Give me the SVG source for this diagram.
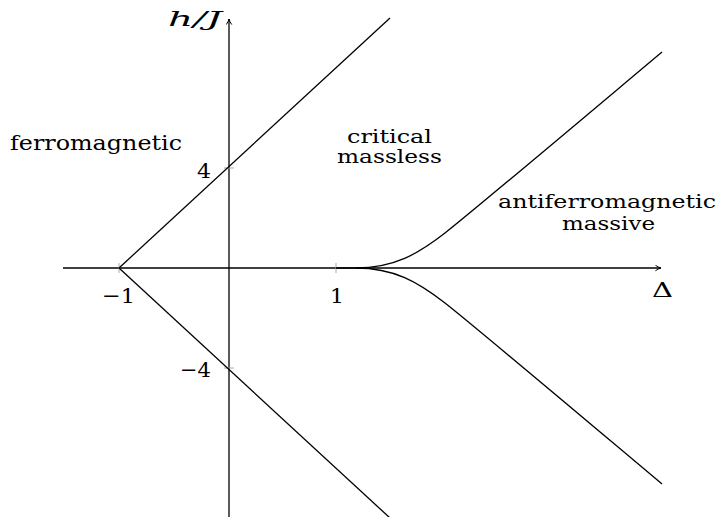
<svg xmlns="http://www.w3.org/2000/svg" width="720" height="517" viewBox="0 0 720 517">
<style>
.ax{stroke:#000;stroke-width:1.3;fill:none}
.ln{stroke:#000;stroke-width:1.3;fill:none}
.tk{stroke:#aaa;stroke-width:1;fill:none}
text{font-family:"DejaVu Serif","Liberation Serif",serif;font-size:21px;fill:#000}
.it{font-style:italic}
.sm{font-size:19px}
</style>
<defs>
<marker id="arr" viewBox="0 0 10 10" refX="9" refY="5" markerWidth="7" markerHeight="7" markerUnits="userSpaceOnUse" orient="auto">
<path d="M1,1 Q5,4 9,5 Q5,6 1,9" fill="none" stroke="#000" stroke-width="1.4"/>
</marker>
</defs>
<rect width="720" height="517" fill="#fff"/>
<g id="axes">
<line class="ax" x1="63" y1="268" x2="661" y2="268" marker-end="url(#arr)"/>
<line class="ax" x1="229" y1="517" x2="229" y2="19" marker-end="url(#arr)"/>
<line class="tk" x1="119" y1="263" x2="119" y2="273"/>
<line class="tk" x1="336" y1="263" x2="336" y2="273"/>
<line class="tk" x1="224" y1="168" x2="234" y2="168"/>
<line class="tk" x1="224" y1="368" x2="234" y2="368"/>
</g>
<g id="connectors">
<line class="ln" x1="119" y1="268" x2="390" y2="18"/>
<line class="ln" x1="119" y1="268" x2="390" y2="518"/>
<path class="ln" d="M336,268 L356,268 C394,268 418,254 445,233 S600,104 662,52"/>
<path class="ln" d="M356,268 C394,268 418,282 445,303 S600,432 662,484"/>
</g>
<g id="labels">
<text class="it" x="168" y="26" textLength="54" lengthAdjust="spacingAndGlyphs">h/J</text>
<text x="652" y="297" textLength="21" lengthAdjust="spacingAndGlyphs">Δ</text>
<text x="197" y="178" textLength="14" lengthAdjust="spacingAndGlyphs">4</text>
<text x="180" y="377" textLength="31" lengthAdjust="spacingAndGlyphs">−4</text>
<text x="102" y="303" textLength="33" lengthAdjust="spacingAndGlyphs">−1</text>
<text x="330" y="303" textLength="14" lengthAdjust="spacingAndGlyphs">1</text>
</g>
<g id="ferromagnetic">
<text x="10" y="150" textLength="172" lengthAdjust="spacingAndGlyphs">ferromagnetic</text>
</g>
<g id="critical">
<text class="sm" x="347" y="143" textLength="85" lengthAdjust="spacingAndGlyphs">critical</text>
<text class="sm" x="337" y="163" textLength="105" lengthAdjust="spacingAndGlyphs">massless</text>
</g>
<g id="antiferromagnetic">
<text class="sm" x="498" y="208" textLength="218" lengthAdjust="spacingAndGlyphs">antiferromagnetic</text>
<text class="sm" x="562" y="230" textLength="93" lengthAdjust="spacingAndGlyphs">massive</text>
</g>
</svg>
